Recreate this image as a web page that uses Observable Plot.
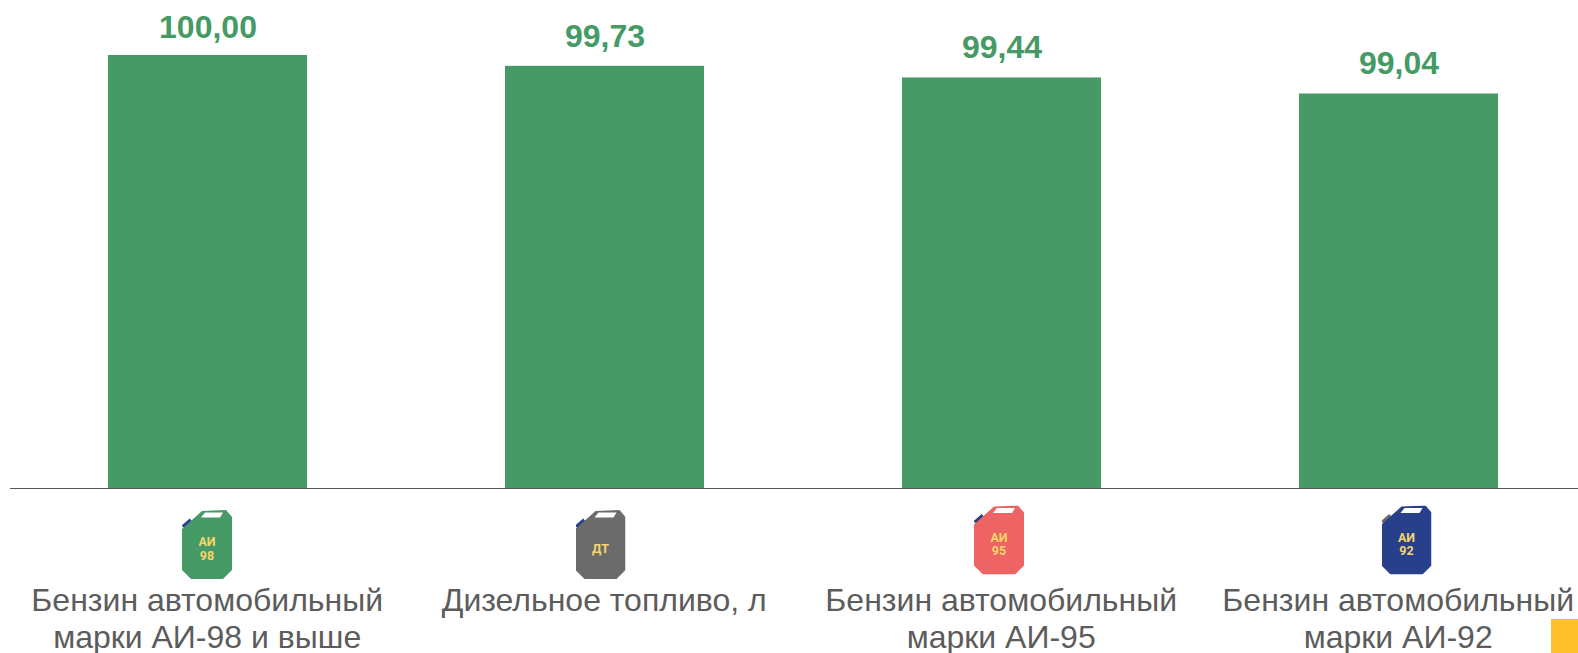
<!DOCTYPE html>
<html lang="ru">
<head>
<meta charset="utf-8">
<script src="https://cdn.jsdelivr.net/npm/d3@7"></script>
<script src="https://cdn.jsdelivr.net/npm/@observablehq/plot@0.6"></script>
<style>
html,body{margin:0;padding:0;background:#fff;overflow:hidden}
#wrap{position:relative;width:1578px;height:653px}
#wrap svg{display:block}
#corner{position:absolute;left:1551px;top:619px;width:27px;height:34px;background:#FFC12B}
</style>
</head>
<body>
<div id="wrap"><div id="corner"></div></div>
<script>
const categories = ["Бензин автомобильный\nмарки АИ-98 и выше", "Дизельное топливо, л", "Бензин автомобильный\nмарки АИ-95", "Бензин автомобильный\nмарки АИ-92"];
const values = [100.00, 99.73, 99.44, 99.04];
const valueLabels = ["100,00", "99,73", "99,44", "99,04"];
const iconLabels = ["АИ\n98", "ДТ", "АИ\n95", "АИ\n92"];
const iconBody = ["#459A66", "#6B6B6B", "#EE6363", "#28408B"];
const iconCap = ["#28408B", "#28408B", "#28408B", "#6B6B6B"];
const iconShiftX = [-1, -4.5, -3, 7.5];
const iconShiftY = [56, 56, 51.5, 51.5];
const labelShift = [-28, -29.5, -30.5, -30.5];
const base = 89.2;

const rows = categories.map((c, i) => ({c, v: values[i], label: valueLabels[i], icon: iconLabels[i], body: iconBody[i], cap: iconCap[i], sx: iconShiftX[i], sy: iconShiftY[i], ls: labelShift[i]}));

function canUri(body, cap) {
  const svg = `<svg xmlns="http://www.w3.org/2000/svg" viewBox="0 0 50 69" width="50" height="69">
<path d="M1 17L9 10" stroke="${cap}" stroke-width="4" fill="none"/>
<path d="M0 19L20 1L44 0L50 7V60L41 69H9L0 60Z" fill="${body}"/>
<path d="M23 2.5H41L38 7.5H19Z" fill="#fff"/></svg>`;
  return "data:image/svg+xml," + encodeURIComponent(svg);
}

const font = "'Liberation Sans', Arial, sans-serif";
const iconMarks = rows.flatMap(r => [
  Plot.image([r], {x: "c", y: () => base, src: d => canUri(d.body, d.cap), width: 50, height: 69, dx: r.sx, dy: r.sy}),
  Plot.text([r], {x: "c", y: () => base, text: "icon", dx: r.sx, dy: r.sy + 4, fill: "#F5D56A", fontSize: 12.5, fontWeight: 700, fontFamily: "Roboto, sans-serif", lineHeight: 1.08, lineAnchor: "middle"})
]);
const valueMarks = rows.map(r =>
  Plot.text([r], {x: "c", y: "v", text: "label", dy: r.ls, fill: "#459A66", fontSize: 32, fontWeight: 700, fontFamily: font, lineAnchor: "middle"})
);

const chart = Plot.plot({
  width: 1578, height: 653,
  marginTop: 0, marginRight: 0, marginBottom: 0, marginLeft: 0,
  style: {background: "#fff", overflow: "hidden"},
  x: {axis: null, domain: categories, range: [8.5, 1596.5], paddingInner: 0.5, paddingOuter: 0.25},
  y: {axis: null, domain: [base, 100], range: [488, 55]},
  marks: [
    Plot.barY(rows, {x: "c", y1: () => base, y2: "v", fill: "#459A66"}),
    Plot.ruleY([base], {stroke: "#595959", strokeWidth: 1, insetLeft: 10}),
    ...valueMarks,
    ...iconMarks,
    Plot.text(rows, {x: "c", y: () => base, text: "c", dx: -0.8, dy: 96, fill: "#5C5C5C", fontSize: 32, fontFamily: font, lineHeight: 1.156, lineAnchor: "top"})
  ]
});
document.getElementById("wrap").prepend(chart);
</script>
</body>
</html>
